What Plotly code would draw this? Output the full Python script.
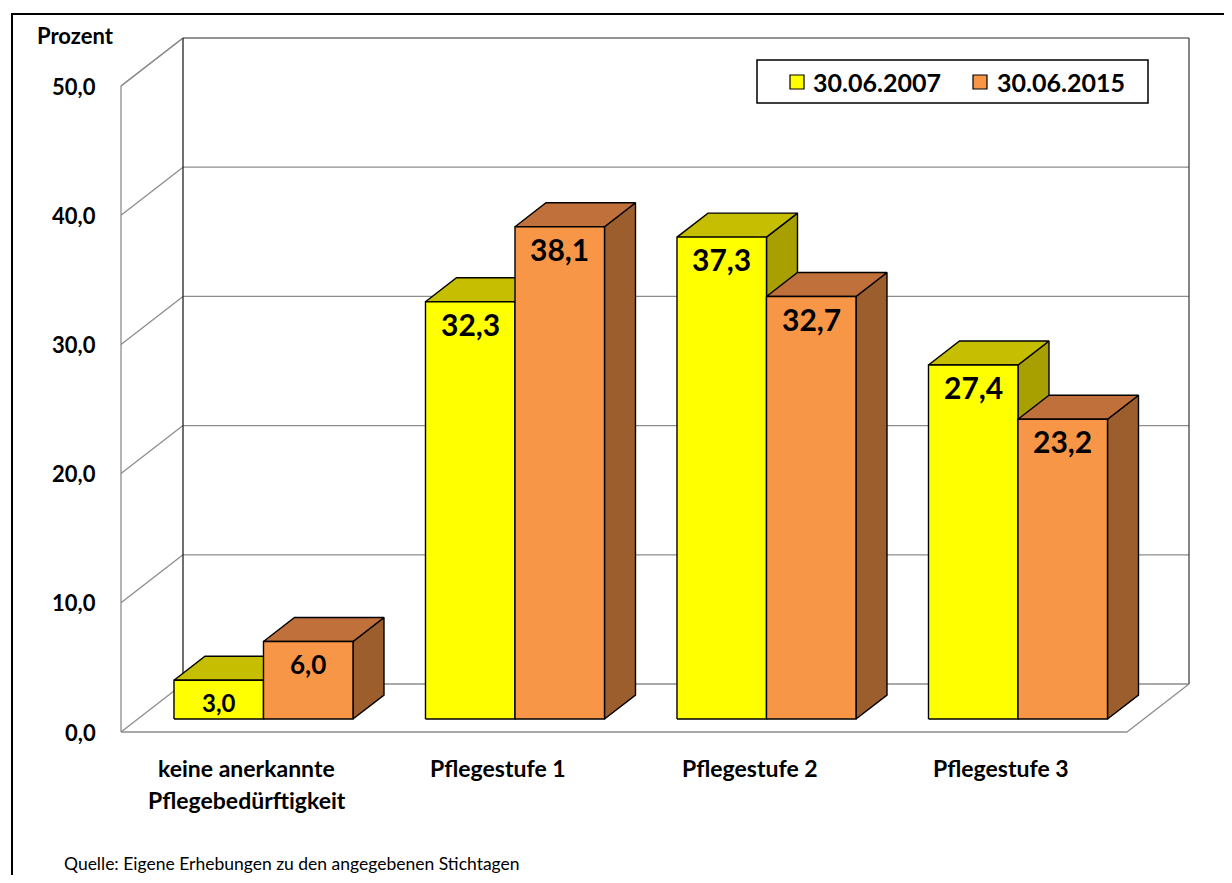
import plotly.graph_objects as go

# ---------------- data ----------------
categories = ["keine anerkannte\nPflegebedürftigkeit", "Pflegestufe 1", "Pflegestufe 2", "Pflegestufe 3"]
series_names = ["30.06.2007", "30.06.2015"]
values_2007 = [3.0, 32.3, 37.3, 27.4]
values_2015 = [6.0, 38.1, 32.7, 23.2]
y_ticks = [0, 10, 20, 30, 40, 50]
y_tick_labels = ["0,0", "10,0", "20,0", "30,0", "40,0", "50,0"]
y_title = "Prozent"
source_text = "Quelle: Eigene Erhebungen zu den angegebenen Stichtagen"

# ---------------- style / geometry ----------------
OFF = 8                         # page body margin
FW, FH = 1232 - 2 * OFF, 883 - 2 * OFF
FONT = "Lato"
PX_PER_CAT = 251.5      # pixels per category unit
PX_PER_PCT = 12.92      # pixels per percent
ORIGIN_X_PX = 121 - OFF # pixel of x = -0.5 (front wall)
ORIGIN_Y_PX = 732 - OFF # pixel of y = 0 (front floor)
DX = 62 / PX_PER_CAT    # full depth offset in x units
DY = 48 / PX_PER_PCT    # full depth offset in y units
Y_MAX = 50
BAR_W = 89.5 / PX_PER_CAT
BAR_D0 = 0.27           # depth position of bar front (fraction of full depth)
BAR_DEPTH = 0.5         # bar depth (fraction of full depth)

face_colors = [
    {"front": "#FFFF00", "top": "#C6BE00", "side": "#A8A000"},
    {"front": "#F79646", "top": "#C0703A", "side": "#9C5E2C"},
]
label_sizes = {3.0: 24, 6.0: 26}


def pxx(p):
    return (p - OFF) / FW


def pxy(p):
    return 1 - (p - OFF) / FH


x_range = [-0.5 - ORIGIN_X_PX / PX_PER_CAT, -0.5 + (FW - ORIGIN_X_PX) / PX_PER_CAT]
y_range = [-(FH - ORIGIN_Y_PX) / PX_PER_PCT, ORIGIN_Y_PX / PX_PER_PCT]

fig = go.Figure()
shapes = []
annotations = []


def line(x0, y0, x1, y1, color="#8C8C8C", width=1.3, layer="below"):
    shapes.append(dict(type="line", xref="x", yref="y", x0=x0, y0=y0, x1=x1, y1=y1,
                       line=dict(color=color, width=width), layer=layer))


# ---------------- walls ----------------
xl, xr = -0.5, len(categories) - 0.5
for t in y_ticks:
    line(xl + DX, t + DY, xr + DX, t + DY)          # back wall gridline
    line(xl, t, xl + DX, t + DY)                    # left wall diagonal
line(xl, 0, xl, Y_MAX)                              # left wall front edge
line(xl, Y_MAX, xl + DX, Y_MAX + DY)                # left wall top edge
line(xl + DX, Y_MAX + DY, xr + DX, Y_MAX + DY)      # back wall top edge
line(xl + DX, DY, xl + DX, Y_MAX + DY, color="#222222")   # back wall left edge
line(xr + DX, DY, xr + DX, Y_MAX + DY, color="#444444")   # back wall right edge
line(xl, 0, xr, 0)                                  # floor front edge
line(xr, 0, xr + DX, DY)                            # floor right edge


# ---------------- bars ----------------
def poly(xs, ys, color):
    fig.add_trace(go.Scatter(x=xs + [xs[0]], y=ys + [ys[0]], mode="lines", fill="toself",
                             fillcolor=color, line=dict(color="black", width=1.4),
                             hoverinfo="skip", showlegend=False))


sx, sy = BAR_D0 * DX, BAR_D0 * DY
bdx, bdy = BAR_DEPTH * DX, BAR_DEPTH * DY
all_series = [values_2007, values_2015]
for i in range(len(categories)):
    for s, vals in enumerate(all_series):
        v = vals[i]
        c = face_colors[s]
        x0 = i - BAR_W + s * BAR_W + sx
        x1 = x0 + BAR_W
        poly([x1, x1, x1 + bdx, x1 + bdx], [sy, v + sy, v + sy + bdy, sy + bdy], c["side"])
        poly([x0, x1, x1 + bdx, x0 + bdx], [v + sy, v + sy, v + sy + bdy, v + sy + bdy], c["top"])
        poly([x0, x1, x1, x0], [sy, sy, v + sy, v + sy], c["front"])
        annotations.append(dict(x=(x0 + x1) / 2, y=v + sy, xref="x", yref="y", yshift=-22,
                                text=f"{v:.1f}".replace(".", ","), showarrow=False,
                                xanchor="center", yanchor="middle",
                                font=dict(family=FONT, size=label_sizes.get(v, 30), color="black", weight="bold")))

# ---------------- axis labels ----------------
for t, lab in zip(y_ticks, y_tick_labels):
    annotations.append(dict(x=xl, y=t, xref="x", yref="y", xshift=-23, text=lab, showarrow=False,
                            xanchor="right", yanchor="middle",
                            font=dict(family=FONT, size=22, color="black", weight="bold")))

for i, cat in enumerate(categories):
    for k, part in enumerate(cat.split("\n")):
        annotations.append(dict(x=i, y=0, xref="x", yref="y", yshift=-36 - 32 * k, text=part,
                                showarrow=False, xanchor="center", yanchor="middle",
                                font=dict(family=FONT, size=23, color="black", weight="bold")))

annotations.append(dict(x=pxx(35), y=pxy(36), xref="paper", yref="paper", text=y_title,
                        showarrow=False, xanchor="left", yanchor="middle",
                        font=dict(family=FONT, size=22, color="black", weight="bold")))

annotations.append(dict(x=pxx(62), y=pxy(863), xref="paper", yref="paper", text=source_text,
                        showarrow=False, xanchor="left", yanchor="middle",
                        font=dict(family=FONT, size=17.5, color="black")))


# ---------------- legend (drawn) ----------------
def pshape(x0, y0, x1, y1, fill="white", lw=1.5):
    shapes.append(dict(type="rect", xref="paper", yref="paper",
                       x0=pxx(x0), x1=pxx(x1), y0=pxy(y1), y1=pxy(y0),
                       fillcolor=fill, line=dict(color="black", width=lw), layer="above"))


pshape(757, 60, 1148, 103)
legend_sq_x = [790, 973]
legend_tx_x = [811, 995]
for s, name in enumerate(series_names):
    pshape(legend_sq_x[s], 75, legend_sq_x[s] + 14, 89, fill=face_colors[s]["front"], lw=1.2)
    annotations.append(dict(x=pxx(legend_tx_x[s]), y=pxy(82), xref="paper", yref="paper",
                            text=name, showarrow=False, xanchor="left", yanchor="middle",
                            font=dict(family=FONT, size=25, color="black", weight="bold")))

# ---------------- outer frame ----------------
shapes.append(dict(type="path", xref="paper", yref="paper",
                   path=f"M {pxx(12)} 0 L {pxx(12)} {pxy(14)} L 1 {pxy(14)}",
                   line=dict(color="black", width=2), layer="above"))

fig.update_layout(
    width=FW, height=FH,
    margin=dict(l=0, r=0, t=0, b=0),
    paper_bgcolor="white", plot_bgcolor="white",
    xaxis=dict(range=x_range, visible=False, fixedrange=True),
    yaxis=dict(range=y_range, visible=False, fixedrange=True),
    shapes=shapes, annotations=annotations,
    showlegend=False,
)

fig.write_html("out.html")
